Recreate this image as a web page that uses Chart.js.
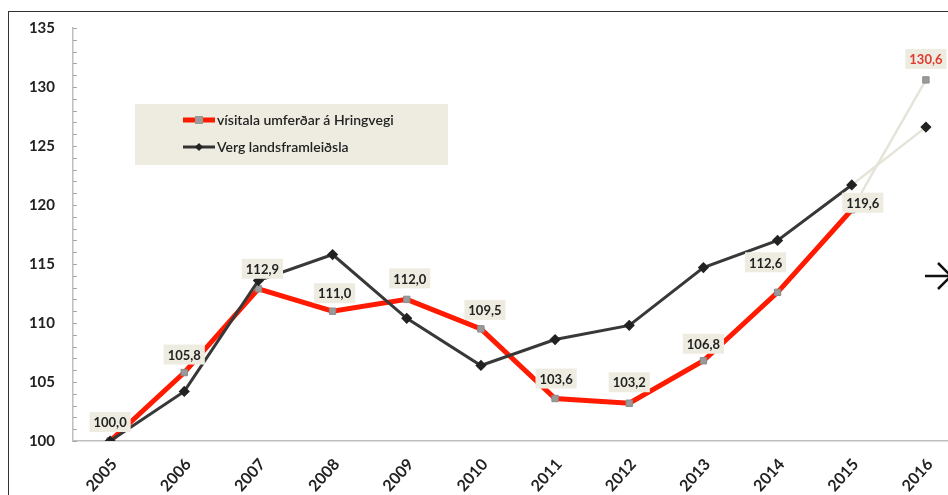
<!DOCTYPE html>
<html>
<head>
<meta charset="utf-8">
<script src="https://cdn.jsdelivr.net/npm/chart.js@4"></script>
<style>
  html, body { margin: 0; padding: 0; background: #fff; overflow: hidden; width: 948px; height: 495px; }
  #wrap { position: absolute; left: 0; top: 0; width: 975px; height: 495px; }
  #frame { position: absolute; left: 8px; top: 11px; width: 1000px; height: 600px; border: 1.5px solid #333; box-sizing: border-box; }
  #arrow { position: absolute; left: 0; top: 0; }
</style>
</head>
<body>
<div id="frame"></div>
<div id="wrap"><canvas id="chart"></canvas></div>
<svg id="arrow" width="948" height="495">
  <path d="M925 276 L950 276 M938 263 L951 276 L938 289" stroke="#111" stroke-width="2.5" fill="none"/>
</svg>
<script>
// ár
const years = ['2005', '2006', '2007', '2008', '2009', '2010', '2011', '2012', '2013', '2014', '2015', '2016'];
// vísitala umferðar á Hringvegi
const umferd = [100.0, 105.8, 112.9, 111.0, 112.0, 109.5, 103.6, 103.2, 106.8, 112.6, 119.6, 130.6];
// verg landsframleiðsla
const vlf = [100.0, 104.2, 113.6, 115.8, 110.4, 106.4, 108.6, 109.8, 114.7, 117.0, 121.7, 126.6];
const seriesNames = ['vísitala umferðar á Hringvegi', 'Verg landsframleiðsla'];
const yMin = 100, yMax = 135, yStep = 5;

const FONT = 'Lato, "Open Sans", sans-serif';
const lastSeg = ctx => ctx.p1DataIndex === years.length - 1;

// label offsets (dx, dy) from each point
const labelOffsets = [[0, -19], [0, -18], [4, -20], [2, -18], [3, -21], [4, -19], [1, -20], [0, -21], [0, -17], [-12, -30], [11, -7], [0, -21]];

const fmt = v => v.toFixed(1).replace('.', ',');

const extras = {
  id: 'extras',
  afterDatasetsDraw(chart) {
    const c = chart.ctx;
    const y = chart.scales.y;
    // minor ticks on y axis
    c.save();
    c.strokeStyle = '#a6a6a6';
    c.lineWidth = 1;
    for (let v = yMin; v <= yMax; v++) {
      const py = Math.round(y.getPixelForValue(v)) + 0.5;
      c.beginPath();
      c.moveTo(y.right, py);
      c.lineTo(y.right + 4, py);
      c.stroke();
    }
    // data labels on red series
    const meta = chart.getDatasetMeta(0);
    c.font = 'bold 13px ' + FONT;
    c.textAlign = 'center';
    c.textBaseline = 'middle';
    meta.data.forEach((pt, i) => {
      const txt = fmt(umferd[i]);
      const [dx, dy] = labelOffsets[i];
      const cx = pt.x + dx, cy = pt.y + dy;
      const w = c.measureText(txt).width + 8;
      c.fillStyle = '#eeece1';
      c.fillRect(cx - w / 2, cy - 10, w, 20);
      c.fillStyle = i === years.length - 1 ? '#e03a2e' : '#222';
      c.fillText(txt, cx, cy + 1);
    });
    // legend
    c.fillStyle = '#eeece1';
    c.fillRect(135, 104, 313, 61);
    const rows = [
      { y: 120, color: '#ff1a00', w: 5, marker: 'rect' },
      { y: 147, color: '#333', w: 3, marker: 'diamond' }
    ];
    rows.forEach((r, i) => {
      c.strokeStyle = r.color;
      c.lineWidth = r.w;
      c.beginPath();
      c.moveTo(183, r.y);
      c.lineTo(215, r.y);
      c.stroke();
      if (r.marker === 'rect') {
        c.fillStyle = '#9a9a9a';
        c.fillRect(195, r.y - 4, 8, 8);
      } else {
        c.fillStyle = '#222';
        c.beginPath();
        c.moveTo(199, r.y - 4); c.lineTo(203, r.y); c.lineTo(199, r.y + 4); c.lineTo(195, r.y);
        c.closePath();
        c.fill();
      }
      c.fillStyle = '#222';
      c.font = '600 14px ' + FONT;
      c.textAlign = 'left';
      c.fillText(seriesNames[i], 217, r.y);
    });
    c.restore();
  }
};

new Chart(document.getElementById('chart'), {
  type: 'line',
  data: {
    labels: years,
    datasets: [{
      label: seriesNames[0],
      data: umferd,
      borderColor: '#ff1a00',
      borderWidth: 5,
      pointStyle: 'rect',
      pointRadius: 4.5,
      pointBackgroundColor: '#9a9a9a',
      pointBorderColor: '#8a8a8a',
      pointBorderWidth: 1,
      tension: 0,
      order: 2,
      segment: {
        borderColor: ctx => lastSeg(ctx) ? '#e6e4d8' : undefined,
        borderWidth: ctx => lastSeg(ctx) ? 2.5 : undefined
      }
    }, {
      label: seriesNames[1],
      data: vlf,
      borderColor: '#383838',
      borderWidth: 3,
      pointStyle: 'rectRot',
      pointRadius: 3.5,
      pointBackgroundColor: '#222',
      pointBorderColor: '#222',
      tension: 0,
      order: 1,
      segment: {
        borderColor: ctx => lastSeg(ctx) ? '#e6e4d8' : undefined,
        borderWidth: ctx => lastSeg(ctx) ? 2.5 : undefined
      }
    }]
  },
  options: {
    responsive: true,
    maintainAspectRatio: false,
    animation: false,
    layout: { padding: { top: 28, right: 12, left: 0, bottom: 0 } },
    plugins: { legend: { display: false }, tooltip: { enabled: false } },
    scales: {
      x: {
        offset: true,
        grid: { display: false, drawTicks: false },
        border: { color: '#bfbfbf', width: 1.5 },
        ticks: { minRotation: 48, maxRotation: 48, labelOffset: 4, padding: 14, color: '#222', font: { family: FONT, size: 16, weight: 'bold' } },
        afterFit: s => { s.height = 54; }
      },
      y: {
        min: yMin,
        max: yMax,
        grid: { display: false, drawTicks: false },
        border: { color: '#bfbfbf', width: 1.5 },
        ticks: { stepSize: yStep, padding: 18, color: '#222', font: { family: FONT, size: 15, weight: 'bold' } },
        afterFit: s => { s.width = 73; }
      }
    }
  },
  plugins: [extras]
});
</script>
</body>
</html>
